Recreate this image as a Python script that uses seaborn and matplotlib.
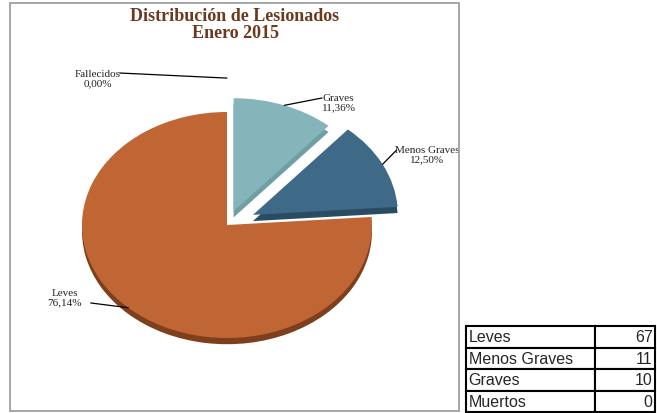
import numpy as np
import matplotlib.pyplot as plt
import seaborn as sns
from matplotlib.patches import Rectangle

# datos del grafico
categorias = ['Fallecidos', 'Graves', 'Menos Graves', 'Leves']
valores = [0, 10, 11, 67]
colores = ['#C9A57A', '#85B5BB', '#3E6A87', '#C06634']
sombras = ['#8A6A4A', '#6E9FA5', '#2A4C63', '#7E3F1C']
explode = [0, 0.13, 0.2, 0]

# tabla de la derecha
tabla_cat = ['Leves', 'Menos Graves', 'Graves', 'Muertos']
tabla_val = [67, 11, 10, 0]

# donde van las etiquetas (unidades del eje) y de donde sale la linea guia
pos_texto = {'Fallecidos': (-0.89, 1.30), 'Graves': (0.77, 1.09),
             'Menos Graves': (1.38, 0.63), 'Leves': (-1.12, -0.64)}
inicio_linea = {'Fallecidos': (-0.74, 1.345), 'Graves': (0.655, 1.124),
                'Menos Graves': (1.17, 0.664), 'Leves': (-0.94, -0.69)}
radio_guia = {'Fallecidos': 1.3, 'Graves': 1.0, 'Menos Graves': 1.0, 'Leves': 1.0}

sns.set_theme(style='white')
plt.rcParams['font.family'] = ['Liberation Serif', 'DejaVu Serif']

fig = plt.figure(figsize=(6.57, 4.14), dpi=100)

# marco gris del area del grafico
fig.patches.append(Rectangle((10 / 657, 1 - 412 / 414), 449 / 657, 408 / 414,
                             transform=fig.transFigure, fill=False,
                             edgecolor='#A6A6A6', linewidth=1.4))

ax = fig.add_axes([0, 0, 1, 1])
ax.patch.set_alpha(0)

# "profundidad" 3D: misma torta mas oscura y corrida hacia abajo
ax.pie(valores, colors=sombras, explode=explode, startangle=90,
       counterclock=False, center=(0, -0.055), wedgeprops=dict(linewidth=0))
wedges, _ = ax.pie(valores, colors=colores, explode=explode, startangle=90,
                   counterclock=False, wedgeprops=dict(linewidth=0))

ax.set_aspect('auto')
ax.set_xlim(-227 / 145, (657 - 227) / 145)
ax.set_ylim((226 - 414) / 113, 226 / 113)
ax.axis('off')

total = sum(valores)
for w, cat, v in zip(wedges, categorias, valores):
    ang = np.deg2rad((w.theta1 + w.theta2) / 2)
    cx, cy = w.center
    r = radio_guia[cat]
    px, py = cx + r * np.cos(ang), cy + r * np.sin(ang)
    sx, sy = inicio_linea[cat]
    ax.plot([sx, px], [sy, py], color='black', linewidth=0.9)
    pct = f"{v / total * 100:.2f}%".replace('.', ',')
    tx, ty = pos_texto[cat]
    ax.text(tx, ty, f"{cat}\n{pct}", ha='center', va='center',
            fontsize=8, color='#222222', linespacing=1.0)

fig.text(235 / 657, 1 - 25 / 414, 'Distribución de Lesionados\nEnero 2015',
         ha='center', va='center', fontsize=13, fontweight='bold',
         color='#6B3A1E', linespacing=1.0)

# tabla
tax = fig.add_axes([466 / 657, 1 / 414, 189 / 657, 86 / 414])
tax.axis('off')
tb = tax.table(cellText=[[c, str(v)] for c, v in zip(tabla_cat, tabla_val)],
               colWidths=[129 / 189, 60 / 189], bbox=[0, 0, 1, 1])
tb.auto_set_font_size(False)
for (fila, col), celda in tb.get_celld().items():
    celda.set_linewidth(1.5)
    celda.set_edgecolor('black')
    celda.get_text().set_fontsize(11.5)
    celda.get_text().set_fontfamily(['Liberation Sans', 'DejaVu Sans'])
    celda.get_text().set_ha('left' if col == 0 else 'right')
    celda.PAD = 0.02 if col == 0 else 0.04

fig.savefig('out.png', dpi=100)
